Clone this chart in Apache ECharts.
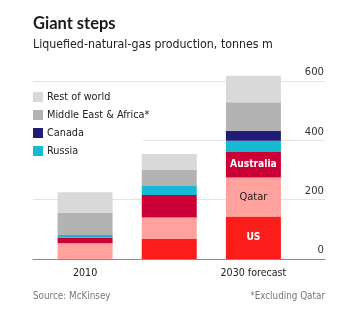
<!DOCTYPE html>
<html>
<head>
<meta charset="utf-8">
<script src="https://cdn.jsdelivr.net/npm/echarts@6/dist/echarts.min.js"></script>
<style>
  html, body { margin: 0; padding: 0; background: #fff; }
  #chart { width: 349px; height: 324px; }
</style>
</head>
<body>
<div id="chart"></div>
<script>
// LNG production by source, tonnes m
const categories = ['2010', '2021', '2030 forecast'];
const us = [0, 67, 143];
const qatar = [53, 73, 132];
const australia = [19, 76, 86];
const russia = [9, 30, 38];
const canada = [0, 0, 33];
const middleEastAfrica = [74, 56, 96];
const restOfWorld = [70, 52, 90];
const yTicks = [0, 200, 400, 600];

const FONT = '"DejaVu Sans Condensed", "Liberation Sans Narrow", sans-serif';
const TITLE_FONT = 'Lato, "Noto Sans", sans-serif';

// bottom-to-top stacking order
const stackDefs = [
  { name: 'US', values: us, color: '#fb1d1a', labelColor: '#fff', bold: true },
  { name: 'Qatar', values: qatar, color: '#ffa19c', labelColor: '#222', bold: false },
  { name: 'Australia', values: australia, color: '#cb0036', labelColor: '#fff', bold: true },
  { name: 'Russia', values: russia, color: '#17bad3' },
  { name: 'Canada', values: canada, color: '#1f1d78' },
  { name: 'Middle East & Africa*', values: middleEastAfrica, color: '#b3b3b3' },
  { name: 'Rest of world', values: restOfWorld, color: '#d9d9d9' }
];

// plot geometry: zero line and 600 line
const zeroY = 259, topTickY = 81;
const pxPerUnit = (zeroY - topTickY) / 600;
const barMax = 700;
const barGridTop = zeroY - barMax * pxPerUnit;

const series = stackDefs.map(d => ({
  name: d.name,
  type: 'bar',
  stack: 'total',
  xAxisIndex: 0,
  yAxisIndex: 0,
  barWidth: 55,
  itemStyle: { color: d.color },
  data: d.values.map((v, i) => {
    const item = { value: v };
    if (d.labelColor && i === categories.length - 1) {
      item.label = {
        show: true,
        position: 'inside',
        formatter: d.name,
        color: d.labelColor,
        fontFamily: FONT,
        fontSize: d.bold ? 10.2 : 11,
        fontWeight: d.bold ? 'bold' : 'normal'
      };
    }
    return item;
  })
}));

const chart = echarts.init(document.getElementById('chart'), null, { renderer: 'canvas' });
chart.setOption({
  animation: false,
  backgroundColor: '#fff',
  textStyle: { fontFamily: FONT },
  title: {
    text: 'Giant steps',
    subtext: 'Liquefied-natural-gas production, tonnes m',
    left: 33,
    top: 15,
    padding: 0,
    itemGap: 7,
    textStyle: { fontFamily: TITLE_FONT, fontSize: 16.5, fontWeight: 'bold', color: '#1a1a1a' },
    subtextStyle: { fontFamily: FONT, fontSize: 12.3, color: '#222' }
  },
  legend: {
    data: ['Rest of world', 'Middle East & Africa*', 'Canada', 'Russia'],
    orient: 'vertical',
    left: 33,
    top: 91.5,
    padding: 0,
    itemWidth: 10,
    itemHeight: 10,
    itemGap: 7,
    icon: 'rect',
    selectedMode: false,
    textStyle: { fontFamily: FONT, fontSize: 10.8, color: '#222', padding: [0, 0, 0, -1] }
  },
  grid: [
    { left: 43, right: 349 - 295.5, top: barGridTop, bottom: 324 - zeroY },
    { left: 33, right: 24, top: topTickY, bottom: 324 - zeroY }
  ],
  xAxis: [
    {
      type: 'category',
      gridIndex: 0,
      data: categories,
      axisLine: { show: false },
      axisTick: { show: false },
      axisLabel: { color: '#222', fontSize: 10.6, fontFamily: FONT, margin: 9 }
    },
    {
      type: 'value',
      gridIndex: 1,
      min: 0,
      max: 1,
      axisLine: { show: true, lineStyle: { color: '#8c8c8c', width: 1 } },
      axisTick: { show: false },
      axisLabel: { show: false },
      splitLine: { show: false }
    }
  ],
  yAxis: [
    {
      type: 'value',
      gridIndex: 0,
      min: 0,
      max: barMax,
      show: false
    },
    {
      type: 'value',
      gridIndex: 1,
      position: 'right',
      min: yTicks[0],
      max: yTicks[yTicks.length - 1],
      interval: 200,
      axisLine: { show: false },
      axisTick: { show: false },
      axisLabel: {
        inside: true,
        margin: 1,
        verticalAlign: 'bottom',
        align: 'right',
        padding: [0, 0, 3, 0],
        color: '#333',
        fontSize: 11.2,
        fontFamily: FONT
      },
      splitLine: { show: true, lineStyle: { color: '#e3e3e3', width: 1 } }
    }
  ],
  graphic: [
    {
      // keeps the 400 gridline clear of the legend block
      type: 'rect',
      z: 1,
      shape: { x: 33, y: 136, width: 110, height: 8 },
      style: { fill: '#fff' }
    },
    {
      type: 'text',
      left: 33,
      top: 291,
      style: { text: 'Source: McKinsey', fill: '#777', font: '9.8px ' + FONT }
    },
    {
      type: 'text',
      right: 24,
      top: 291,
      style: { text: '*Excluding Qatar', fill: '#777', font: '9.8px ' + FONT }
    }
  ],
  series: series
});
</script>
</body>
</html>
